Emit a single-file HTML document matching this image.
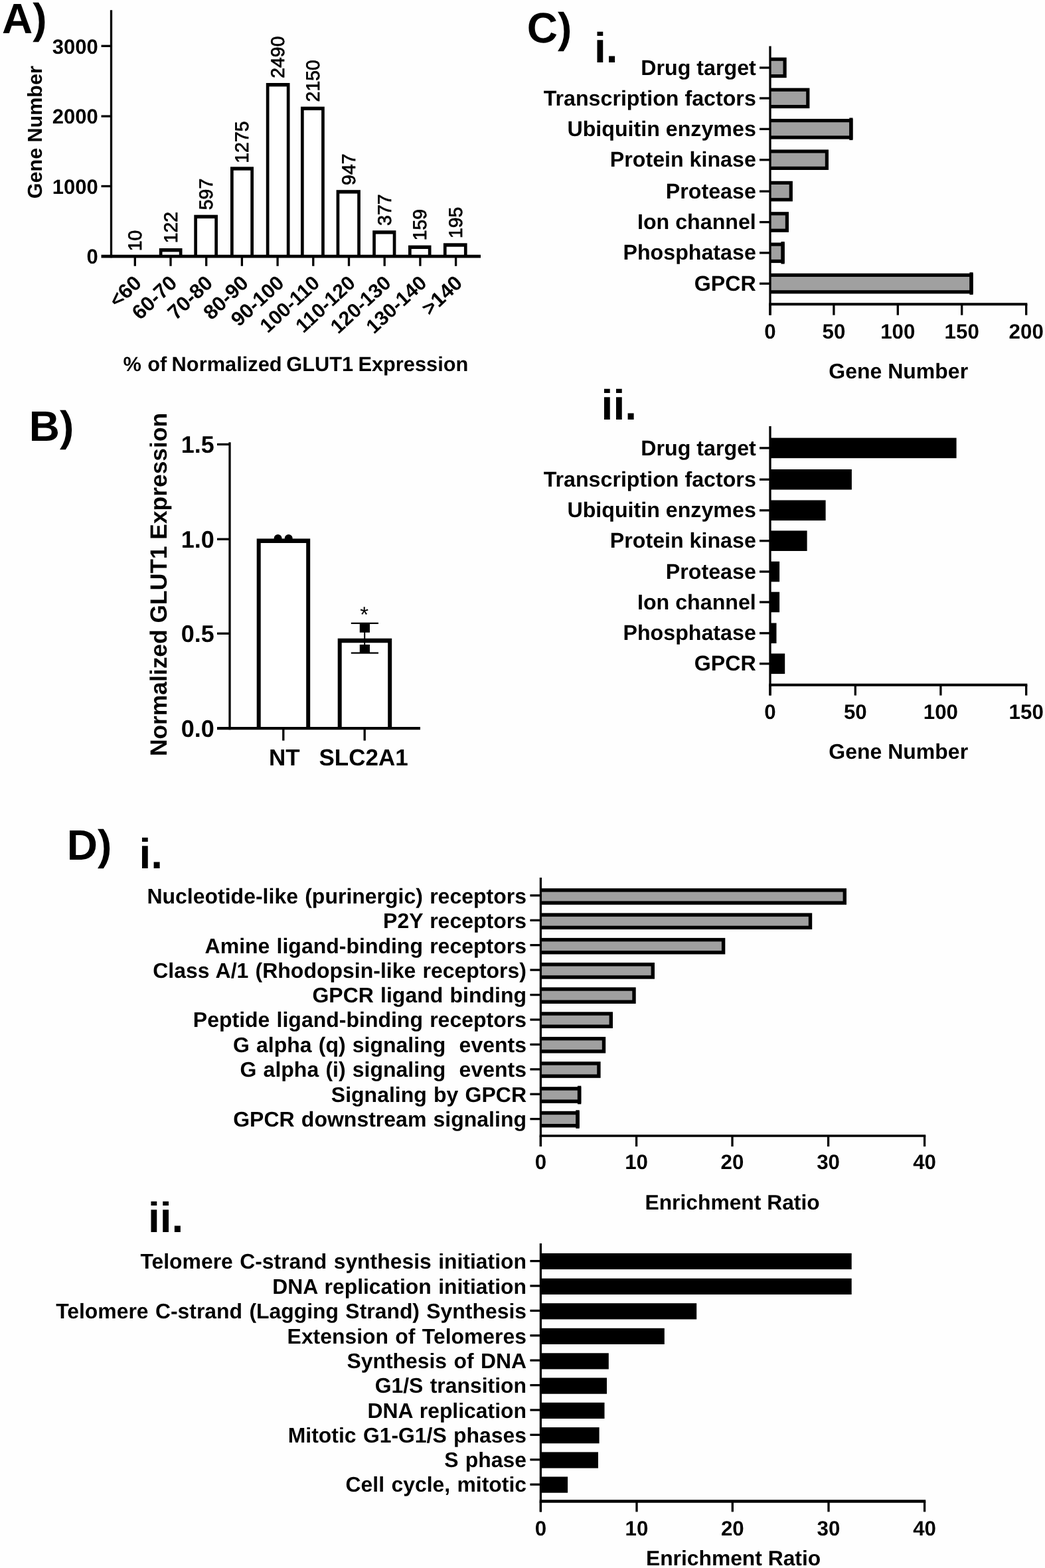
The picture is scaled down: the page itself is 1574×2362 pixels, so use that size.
<!DOCTYPE html>
<html lang="en">
<head>
<meta charset="utf-8">
<title>Figure: GLUT1 expression screen</title>
<style>
html,body{margin:0;padding:0;background:#fff;}
body{width:1574px;height:2362px;overflow:hidden;}
svg{display:block;filter:blur(0.45px);}
svg text{font-family:"Liberation Sans",sans-serif;font-weight:bold;fill:#000;white-space:pre;text-rendering:geometricPrecision;}
svg text.r{font-weight:normal;stroke:#000;stroke-width:0.8px;}
</style>
</head>
<body>
<svg width="1574" height="2362" viewBox="0 0 1574 2362">
<rect x="0" y="0" width="1574" height="2362" fill="#fefefe"/>
<g id="panelA">
<text x="3" y="50.3" font-size="64">A)</text>
<text x="212.9" y="378.2" font-size="28.4" class="r" transform="rotate(-90 212.9 378.2)">10</text>
<rect x="239.8" y="374" width="34.7" height="12.2" fill="#000"/>
<rect x="244.5" y="379.4" width="25.3" height="6.8" fill="#fff"/>
<text x="266.7" y="366.2" font-size="28.4" class="r" transform="rotate(-90 266.7 366.2)">122</text>
<rect x="292.3" y="323.7" width="35.7" height="62.5" fill="#000"/>
<rect x="297" y="329.1" width="26.3" height="57.1" fill="#fff"/>
<text x="320.3" y="316.2" font-size="28.4" class="r" transform="rotate(-90 320.3 316.2)">597</text>
<rect x="347" y="251.3" width="35" height="134.9" fill="#000"/>
<rect x="351.7" y="256.7" width="25.6" height="129.5" fill="#fff"/>
<text x="374" y="245.7" font-size="28.4" class="r" transform="rotate(-90 374 245.7)">1275</text>
<rect x="400.8" y="125" width="35.7" height="261.2" fill="#000"/>
<rect x="405.5" y="130.4" width="26.3" height="255.8" fill="#fff"/>
<text x="427.7" y="117.7" font-size="28.4" class="r" transform="rotate(-90 427.7 117.7)">2490</text>
<rect x="453" y="160.7" width="35.8" height="225.5" fill="#000"/>
<rect x="457.7" y="166.1" width="26.4" height="220.1" fill="#fff"/>
<text x="481.4" y="153.4" font-size="28.4" class="r" transform="rotate(-90 481.4 153.4)">2150</text>
<rect x="506.6" y="286.2" width="36.3" height="100" fill="#000"/>
<rect x="511.3" y="291.6" width="26.9" height="94.6" fill="#fff"/>
<text x="535.1" y="278.9" font-size="28.4" class="r" transform="rotate(-90 535.1 278.9)">947</text>
<rect x="561.2" y="347.2" width="35.2" height="39" fill="#000"/>
<rect x="565.9" y="352.6" width="25.8" height="33.6" fill="#fff"/>
<text x="588.8" y="339.9" font-size="28.4" class="r" transform="rotate(-90 588.8 339.9)">377</text>
<rect x="615" y="369.6" width="34.5" height="16.6" fill="#000"/>
<rect x="619.7" y="375" width="25.1" height="11.2" fill="#fff"/>
<text x="642.5" y="362.3" font-size="28.4" class="r" transform="rotate(-90 642.5 362.3)">159</text>
<rect x="667.9" y="366.3" width="35.7" height="19.9" fill="#000"/>
<rect x="672.6" y="371.7" width="26.3" height="14.5" fill="#fff"/>
<text x="696.2" y="359" font-size="28.4" class="r" transform="rotate(-90 696.2 359)">195</text>
<line x1="167.5" y1="15.3" x2="167.5" y2="388.2" stroke="#000" stroke-width="3.3"/>
<line x1="152.5" y1="386.2" x2="724" y2="386.2" stroke="#000" stroke-width="4.8"/>
<line x1="152.5" y1="69.3" x2="167.5" y2="69.3" stroke="#000" stroke-width="3.3"/>
<line x1="152.5" y1="175.1" x2="167.5" y2="175.1" stroke="#000" stroke-width="3.3"/>
<line x1="152.5" y1="280.5" x2="167.5" y2="280.5" stroke="#000" stroke-width="3.3"/>
<text x="147.8" y="80.5" font-size="31" text-anchor="end">3000</text>
<text x="147.8" y="186.3" font-size="31" text-anchor="end">2000</text>
<text x="147.8" y="291.7" font-size="31" text-anchor="end">1000</text>
<text x="147.8" y="397.4" font-size="31" text-anchor="end">0</text>
<line x1="203.3" y1="386.2" x2="203.3" y2="400.8" stroke="#000" stroke-width="3.3"/>
<text x="214.9" y="428.6" font-size="31" text-anchor="end" transform="rotate(-43.5 214.9 428.6)">&lt;60</text>
<line x1="257" y1="386.2" x2="257" y2="400.8" stroke="#000" stroke-width="3.3"/>
<text x="268.6" y="428.6" font-size="31" text-anchor="end" transform="rotate(-43.5 268.6 428.6)">60-70</text>
<line x1="310.7" y1="386.2" x2="310.7" y2="400.8" stroke="#000" stroke-width="3.3"/>
<text x="322.3" y="428.6" font-size="31" text-anchor="end" transform="rotate(-43.5 322.3 428.6)">70-80</text>
<line x1="364.4" y1="386.2" x2="364.4" y2="400.8" stroke="#000" stroke-width="3.3"/>
<text x="376" y="428.6" font-size="31" text-anchor="end" transform="rotate(-43.5 376 428.6)">80-90</text>
<line x1="418.1" y1="386.2" x2="418.1" y2="400.8" stroke="#000" stroke-width="3.3"/>
<text x="429.7" y="428.6" font-size="30.6" text-anchor="end" transform="rotate(-42.8 429.7 428.6)">90-100</text>
<line x1="471.8" y1="386.2" x2="471.8" y2="400.8" stroke="#000" stroke-width="3.3"/>
<text x="483.4" y="428.6" font-size="30.2" text-anchor="end" transform="rotate(-42.8 483.4 428.6)">100-110</text>
<line x1="525.5" y1="386.2" x2="525.5" y2="400.8" stroke="#000" stroke-width="3.3"/>
<text x="537.1" y="428.6" font-size="30.2" text-anchor="end" transform="rotate(-42.8 537.1 428.6)">110-120</text>
<line x1="579.2" y1="386.2" x2="579.2" y2="400.8" stroke="#000" stroke-width="3.3"/>
<text x="590.8" y="428.6" font-size="30.2" text-anchor="end" transform="rotate(-42.8 590.8 428.6)">120-130</text>
<line x1="632.9" y1="386.2" x2="632.9" y2="400.8" stroke="#000" stroke-width="3.3"/>
<text x="644.5" y="428.6" font-size="30.2" text-anchor="end" transform="rotate(-42.8 644.5 428.6)">130-140</text>
<line x1="686.6" y1="386.2" x2="686.6" y2="400.8" stroke="#000" stroke-width="3.3"/>
<text x="698.2" y="428.6" font-size="31" text-anchor="end" transform="rotate(-43.5 698.2 428.6)">&gt;140</text>
<text x="62.8" y="199.2" font-size="30.5" text-anchor="middle" transform="rotate(-90 62.8 199.2)">Gene Number</text>
<text y="559" font-size="30.8"><tspan x="185.6">%</tspan> <tspan x="222.2">of</tspan> <tspan x="258.6">Normalized</tspan> <tspan x="431.2">GLUT1</tspan> <tspan x="539.4">Expression</tspan></text>
</g>
<g id="panelB">
<text x="43.8" y="664.3" font-size="64">B)</text>
<rect x="386.7" y="811.4" width="80.5" height="285.8" fill="#000"/>
<rect x="392.7" y="818" width="68.5" height="279.2" fill="#fff"/>
<rect x="508.7" y="961.7" width="81.5" height="135.5" fill="#000"/>
<rect x="514.7" y="968.3" width="69.5" height="128.9" fill="#fff"/>
<circle cx="418.6" cy="811" r="6" fill="#000"/>
<circle cx="434.7" cy="811" r="6" fill="#000"/>
<line x1="549.2" y1="938.8" x2="549.2" y2="983.7" stroke="#000" stroke-width="2"/>
<line x1="528.8" y1="938.8" x2="570" y2="938.8" stroke="#000" stroke-width="2.2"/>
<line x1="528.8" y1="983.7" x2="570" y2="983.7" stroke="#000" stroke-width="2.2"/>
<rect x="541.8" y="938.8" width="15.2" height="14" fill="#000"/>
<rect x="541.8" y="971" width="15.2" height="12.7" fill="#000"/>
<text x="548.7" y="937.4" font-size="33" text-anchor="middle" style="font-weight:normal;stroke:none">*</text>
<line x1="346" y1="666.3" x2="346" y2="1099.2" stroke="#000" stroke-width="3.3"/>
<line x1="327" y1="1097.2" x2="633" y2="1097.2" stroke="#000" stroke-width="4.3"/>
<line x1="327" y1="669.4" x2="346" y2="669.4" stroke="#000" stroke-width="3.3"/>
<line x1="327" y1="812.2" x2="346" y2="812.2" stroke="#000" stroke-width="3.3"/>
<line x1="327" y1="954.3" x2="346" y2="954.3" stroke="#000" stroke-width="3.3"/>
<text x="322.8" y="682" font-size="36" text-anchor="end">1.5</text>
<text x="322.8" y="824.8" font-size="36" text-anchor="end">1.0</text>
<text x="322.8" y="966.9" font-size="36" text-anchor="end">0.5</text>
<text x="322.8" y="1109.8" font-size="36" text-anchor="end">0.0</text>
<line x1="426.8" y1="1097.2" x2="426.8" y2="1115.6" stroke="#000" stroke-width="3.3"/>
<text x="428.4" y="1153.3" font-size="35" text-anchor="middle">NT</text>
<line x1="549.2" y1="1097.2" x2="549.2" y2="1115.6" stroke="#000" stroke-width="3.3"/>
<text x="547.6" y="1153.3" font-size="35" text-anchor="middle">SLC2A1</text>
<text x="250.8" y="880.5" font-size="35.4" text-anchor="middle" transform="rotate(-90 250.8 880.5)">Normalized GLUT1 Expression</text>
</g>
<text x="793.7" y="63.8" font-size="64">C)</text>
<text x="895" y="93.9" font-size="64">i.</text>
<g id="panelCi">
<rect x="1160" y="86.6" width="24.7" height="30.6" fill="#000"/>
<rect x="1160" y="91.8" width="19.5" height="20.2" fill="#a0a0a0"/>
<line x1="1144" y1="102" x2="1160" y2="102" stroke="#000" stroke-width="3.3"/>
<text x="1138.8" y="112.5" font-size="32.2" text-anchor="end">Drug target</text>
<rect x="1160" y="132.6" width="59.4" height="30.6" fill="#000"/>
<rect x="1160" y="137.8" width="54.2" height="20.2" fill="#a0a0a0"/>
<line x1="1144" y1="148" x2="1160" y2="148" stroke="#000" stroke-width="3.3"/>
<text x="1138.8" y="158.5" font-size="32.2" text-anchor="end">Transcription factors</text>
<rect x="1160" y="179" width="124.5" height="30.6" fill="#000"/>
<rect x="1160" y="184.2" width="119.3" height="20.2" fill="#a0a0a0"/>
<rect x="1279.3" y="177.5" width="5.2" height="33.6" fill="#000"/>
<line x1="1144" y1="194.4" x2="1160" y2="194.4" stroke="#000" stroke-width="3.3"/>
<text x="1138.8" y="204.9" font-size="32.2" text-anchor="end">Ubiquitin enzymes</text>
<rect x="1160" y="225.4" width="88" height="30.6" fill="#000"/>
<rect x="1160" y="230.6" width="82.8" height="20.2" fill="#a0a0a0"/>
<line x1="1144" y1="240.8" x2="1160" y2="240.8" stroke="#000" stroke-width="3.3"/>
<text x="1138.8" y="251.3" font-size="32.2" text-anchor="end">Protein kinase</text>
<rect x="1160" y="272.8" width="33.9" height="30.6" fill="#000"/>
<rect x="1160" y="278" width="28.7" height="20.2" fill="#a0a0a0"/>
<line x1="1144" y1="288.2" x2="1160" y2="288.2" stroke="#000" stroke-width="3.3"/>
<text x="1138.8" y="298.7" font-size="32.2" text-anchor="end">Protease</text>
<rect x="1160" y="319.2" width="28" height="30.6" fill="#000"/>
<rect x="1160" y="324.4" width="22.8" height="20.2" fill="#a0a0a0"/>
<line x1="1144" y1="334.6" x2="1160" y2="334.6" stroke="#000" stroke-width="3.3"/>
<text x="1138.8" y="345.1" font-size="32.2" text-anchor="end">Ion channel</text>
<rect x="1160" y="365.5" width="21.7" height="30.6" fill="#000"/>
<rect x="1160" y="370.7" width="16.5" height="20.2" fill="#a0a0a0"/>
<rect x="1176.5" y="364" width="5.2" height="33.6" fill="#000"/>
<line x1="1144" y1="380.9" x2="1160" y2="380.9" stroke="#000" stroke-width="3.3"/>
<text x="1138.8" y="391.4" font-size="32.2" text-anchor="end">Phosphatase</text>
<rect x="1160" y="411.8" width="305.6" height="30.6" fill="#000"/>
<rect x="1160" y="417" width="300.4" height="20.2" fill="#a0a0a0"/>
<rect x="1460.4" y="410.3" width="5.2" height="33.6" fill="#000"/>
<line x1="1144" y1="427.2" x2="1160" y2="427.2" stroke="#000" stroke-width="3.3"/>
<text x="1138.8" y="437.7" font-size="32.2" text-anchor="end">GPCR</text>
<line x1="1160" y1="69.4" x2="1160" y2="474.7" stroke="#000" stroke-width="3.3"/>
<line x1="1158.35" y1="458.2" x2="1547.35" y2="458.2" stroke="#000" stroke-width="3.9"/>
<line x1="1160" y1="458.2" x2="1160" y2="474.7" stroke="#000" stroke-width="3.3"/>
<text x="1160" y="509.8" font-size="31.3" text-anchor="middle">0</text>
<line x1="1255.9" y1="458.2" x2="1255.9" y2="474.7" stroke="#000" stroke-width="3.3"/>
<text x="1255.9" y="509.8" font-size="31.3" text-anchor="middle">50</text>
<line x1="1352.3" y1="458.2" x2="1352.3" y2="474.7" stroke="#000" stroke-width="3.3"/>
<text x="1352.3" y="509.8" font-size="31.3" text-anchor="middle">100</text>
<line x1="1448.7" y1="458.2" x2="1448.7" y2="474.7" stroke="#000" stroke-width="3.3"/>
<text x="1448.7" y="509.8" font-size="31.3" text-anchor="middle">150</text>
<line x1="1545.7" y1="458.2" x2="1545.7" y2="474.7" stroke="#000" stroke-width="3.3"/>
<text x="1545.7" y="509.8" font-size="31.3" text-anchor="middle">200</text>
<text x="1353.2" y="569.8" font-size="32" text-anchor="middle">Gene Number</text>
</g>
<text x="905.6" y="631.8" font-size="64">ii.</text>
<g id="panelCii">
<rect x="1160" y="659.6" width="280.6" height="30.6" fill="#000"/>
<line x1="1144" y1="674.9" x2="1160" y2="674.9" stroke="#000" stroke-width="3.3"/>
<text x="1138.8" y="685.5" font-size="32.2" text-anchor="end">Drug target</text>
<rect x="1160" y="707" width="122.9" height="30.6" fill="#000"/>
<line x1="1144" y1="722.3" x2="1160" y2="722.3" stroke="#000" stroke-width="3.3"/>
<text x="1138.8" y="732.9" font-size="32.2" text-anchor="end">Transcription factors</text>
<rect x="1160" y="753.5" width="83.6" height="30.6" fill="#000"/>
<line x1="1144" y1="768.8" x2="1160" y2="768.8" stroke="#000" stroke-width="3.3"/>
<text x="1138.8" y="779.4" font-size="32.2" text-anchor="end">Ubiquitin enzymes</text>
<rect x="1160" y="799.4" width="55.6" height="30.6" fill="#000"/>
<line x1="1144" y1="814.7" x2="1160" y2="814.7" stroke="#000" stroke-width="3.3"/>
<text x="1138.8" y="825.3" font-size="32.2" text-anchor="end">Protein kinase</text>
<rect x="1160" y="845.8" width="14.1" height="30.6" fill="#000"/>
<line x1="1144" y1="861.1" x2="1160" y2="861.1" stroke="#000" stroke-width="3.3"/>
<text x="1138.8" y="871.7" font-size="32.2" text-anchor="end">Protease</text>
<rect x="1160" y="891.7" width="14.1" height="30.6" fill="#000"/>
<line x1="1144" y1="907" x2="1160" y2="907" stroke="#000" stroke-width="3.3"/>
<text x="1138.8" y="917.6" font-size="32.2" text-anchor="end">Ion channel</text>
<rect x="1160" y="938.5" width="9.5" height="30.6" fill="#000"/>
<line x1="1144" y1="953.8" x2="1160" y2="953.8" stroke="#000" stroke-width="3.3"/>
<text x="1138.8" y="964.4" font-size="32.2" text-anchor="end">Phosphatase</text>
<rect x="1160" y="984.5" width="22.2" height="30.6" fill="#000"/>
<line x1="1144" y1="999.8" x2="1160" y2="999.8" stroke="#000" stroke-width="3.3"/>
<text x="1138.8" y="1010.4" font-size="32.2" text-anchor="end">GPCR</text>
<line x1="1160" y1="642" x2="1160" y2="1047.6" stroke="#000" stroke-width="3.3"/>
<line x1="1158.35" y1="1031.8" x2="1547.35" y2="1031.8" stroke="#000" stroke-width="3.9"/>
<line x1="1160" y1="1031.8" x2="1160" y2="1047.6" stroke="#000" stroke-width="3.3"/>
<text x="1160" y="1082.9" font-size="31.3" text-anchor="middle">0</text>
<line x1="1288.3" y1="1031.8" x2="1288.3" y2="1047.6" stroke="#000" stroke-width="3.3"/>
<text x="1288.3" y="1082.9" font-size="31.3" text-anchor="middle">50</text>
<line x1="1416.9" y1="1031.8" x2="1416.9" y2="1047.6" stroke="#000" stroke-width="3.3"/>
<text x="1416.9" y="1082.9" font-size="31.3" text-anchor="middle">100</text>
<line x1="1545.7" y1="1031.8" x2="1545.7" y2="1047.6" stroke="#000" stroke-width="3.3"/>
<text x="1545.7" y="1082.9" font-size="31.3" text-anchor="middle">150</text>
<text x="1353.2" y="1143" font-size="32" text-anchor="middle">Gene Number</text>
</g>
<text x="100.8" y="1295.3" font-size="64">D)</text>
<text x="209.4" y="1308" font-size="64">i.</text>
<g id="panelDi">
<rect x="814.4" y="1338.2" width="460.6" height="24.6" fill="#000"/>
<rect x="814.4" y="1343.6" width="455.2" height="13.8" fill="#a0a0a0"/>
<line x1="798.4" y1="1348.9" x2="814.4" y2="1348.9" stroke="#000" stroke-width="3.3"/>
<text x="793" y="1361.1" font-size="32" text-anchor="end" word-spacing="1.3">Nucleotide-like (purinergic) receptors</text>
<rect x="814.4" y="1375.4" width="408.8" height="24.6" fill="#000"/>
<rect x="814.4" y="1380.8" width="403.4" height="13.8" fill="#a0a0a0"/>
<line x1="798.4" y1="1386.3" x2="814.4" y2="1386.3" stroke="#000" stroke-width="3.3"/>
<text x="793" y="1398.3" font-size="32" text-anchor="end" word-spacing="1.3">P2Y receptors</text>
<rect x="814.4" y="1412.9" width="277.9" height="24.6" fill="#000"/>
<rect x="814.4" y="1418.3" width="272.5" height="13.8" fill="#a0a0a0"/>
<line x1="798.4" y1="1423.7" x2="814.4" y2="1423.7" stroke="#000" stroke-width="3.3"/>
<text x="793" y="1435.8" font-size="32" text-anchor="end" word-spacing="1.3">Amine ligand-binding receptors</text>
<rect x="814.4" y="1450.1" width="171.6" height="24.6" fill="#000"/>
<rect x="814.4" y="1455.5" width="166.2" height="13.8" fill="#a0a0a0"/>
<line x1="798.4" y1="1461.1" x2="814.4" y2="1461.1" stroke="#000" stroke-width="3.3"/>
<text x="793" y="1473" font-size="32" text-anchor="end" word-spacing="1.3">Class A/1 (Rhodopsin-like receptors)</text>
<rect x="814.4" y="1487.3" width="143.3" height="24.6" fill="#000"/>
<rect x="814.4" y="1492.7" width="137.9" height="13.8" fill="#a0a0a0"/>
<line x1="798.4" y1="1498.6" x2="814.4" y2="1498.6" stroke="#000" stroke-width="3.3"/>
<text x="793" y="1510.2" font-size="32" text-anchor="end" word-spacing="1.3">GPCR ligand binding</text>
<rect x="814.4" y="1524.3" width="108.6" height="24.6" fill="#000"/>
<rect x="814.4" y="1529.7" width="103.2" height="13.8" fill="#a0a0a0"/>
<line x1="798.4" y1="1536" x2="814.4" y2="1536" stroke="#000" stroke-width="3.3"/>
<text x="793" y="1547.2" font-size="32" text-anchor="end" word-spacing="1.3">Peptide ligand-binding receptors</text>
<rect x="814.4" y="1561.9" width="97.8" height="24.6" fill="#000"/>
<rect x="814.4" y="1567.3" width="92.4" height="13.8" fill="#a0a0a0"/>
<line x1="798.4" y1="1573.4" x2="814.4" y2="1573.4" stroke="#000" stroke-width="3.3"/>
<text x="793" y="1584.8" font-size="32" text-anchor="end" word-spacing="1.3">G alpha (q) signaling  events</text>
<rect x="814.4" y="1599.2" width="90.2" height="24.6" fill="#000"/>
<rect x="814.4" y="1604.6" width="84.8" height="13.8" fill="#a0a0a0"/>
<line x1="798.4" y1="1610.8" x2="814.4" y2="1610.8" stroke="#000" stroke-width="3.3"/>
<text x="793" y="1622.1" font-size="32" text-anchor="end" word-spacing="1.3">G alpha (i) signaling  events</text>
<rect x="814.4" y="1637.2" width="60.9" height="24.6" fill="#000"/>
<rect x="814.4" y="1642.6" width="55.5" height="13.8" fill="#a0a0a0"/>
<rect x="869.9" y="1635.7" width="5.4" height="27.6" fill="#000"/>
<line x1="798.4" y1="1648.2" x2="814.4" y2="1648.2" stroke="#000" stroke-width="3.3"/>
<text x="793" y="1660.1" font-size="32" text-anchor="end" word-spacing="1.3">Signaling by GPCR</text>
<rect x="814.4" y="1673.8" width="58.3" height="24.6" fill="#000"/>
<rect x="814.4" y="1679.2" width="52.9" height="13.8" fill="#a0a0a0"/>
<rect x="867.3" y="1672.3" width="5.4" height="27.6" fill="#000"/>
<line x1="798.4" y1="1685.6" x2="814.4" y2="1685.6" stroke="#000" stroke-width="3.3"/>
<text x="793" y="1696.7" font-size="32" text-anchor="end" word-spacing="1.3">GPCR downstream signaling</text>
<line x1="814.4" y1="1322" x2="814.4" y2="1727.1" stroke="#000" stroke-width="3.3"/>
<line x1="812.75" y1="1711" x2="1394.25" y2="1711" stroke="#000" stroke-width="3.5"/>
<line x1="814.4" y1="1711" x2="814.4" y2="1727.1" stroke="#000" stroke-width="3.3"/>
<text x="814.4" y="1761" font-size="31.3" text-anchor="middle">0</text>
<line x1="958.6" y1="1711" x2="958.6" y2="1727.1" stroke="#000" stroke-width="3.3"/>
<text x="958.6" y="1761" font-size="31.3" text-anchor="middle">10</text>
<line x1="1103" y1="1711" x2="1103" y2="1727.1" stroke="#000" stroke-width="3.3"/>
<text x="1103" y="1761" font-size="31.3" text-anchor="middle">20</text>
<line x1="1247.6" y1="1711" x2="1247.6" y2="1727.1" stroke="#000" stroke-width="3.3"/>
<text x="1247.6" y="1761" font-size="31.3" text-anchor="middle">30</text>
<line x1="1392.6" y1="1711" x2="1392.6" y2="1727.1" stroke="#000" stroke-width="3.3"/>
<text x="1392.6" y="1761" font-size="31.3" text-anchor="middle">40</text>
<text x="1103.1" y="1822.2" font-size="31.8" text-anchor="middle">Enrichment Ratio</text>
</g>
<text x="222.9" y="1855.8" font-size="64">ii.</text>
<g id="panelDii">
<rect x="814.4" y="1887.9" width="468.3" height="24.2" fill="#000"/>
<line x1="798.4" y1="1899.6" x2="814.4" y2="1899.6" stroke="#000" stroke-width="3.3"/>
<text x="793" y="1910.6" font-size="31.9" text-anchor="end" word-spacing="1.5">Telomere C-strand synthesis initiation</text>
<rect x="814.4" y="1925.8" width="468.3" height="24.2" fill="#000"/>
<line x1="798.4" y1="1937" x2="814.4" y2="1937" stroke="#000" stroke-width="3.3"/>
<text x="793" y="1948.5" font-size="31.9" text-anchor="end" word-spacing="1.5">DNA replication initiation</text>
<rect x="814.4" y="1963.2" width="234.8" height="24.2" fill="#000"/>
<line x1="798.4" y1="1974.4" x2="814.4" y2="1974.4" stroke="#000" stroke-width="3.3"/>
<text x="793" y="1985.9" font-size="31.9" text-anchor="end" word-spacing="1.5">Telomere C-strand (Lagging Strand) Synthesis</text>
<rect x="814.4" y="2000.8" width="186.4" height="24.2" fill="#000"/>
<line x1="798.4" y1="2011.8" x2="814.4" y2="2011.8" stroke="#000" stroke-width="3.3"/>
<text x="793" y="2023.5" font-size="31.9" text-anchor="end" word-spacing="1.5">Extension of Telomeres</text>
<rect x="814.4" y="2038.3" width="102.4" height="24.2" fill="#000"/>
<line x1="798.4" y1="2049.2" x2="814.4" y2="2049.2" stroke="#000" stroke-width="3.3"/>
<text x="793" y="2061" font-size="31.9" text-anchor="end" word-spacing="1.5">Synthesis of DNA</text>
<rect x="814.4" y="2075.5" width="99.6" height="24.2" fill="#000"/>
<line x1="798.4" y1="2086.6" x2="814.4" y2="2086.6" stroke="#000" stroke-width="3.3"/>
<text x="793" y="2098.2" font-size="31.9" text-anchor="end" word-spacing="1.5">G1/S transition</text>
<rect x="814.4" y="2112.8" width="96.1" height="24.2" fill="#000"/>
<line x1="798.4" y1="2124" x2="814.4" y2="2124" stroke="#000" stroke-width="3.3"/>
<text x="793" y="2135.5" font-size="31.9" text-anchor="end" word-spacing="1.5">DNA replication</text>
<rect x="814.4" y="2150.1" width="88.2" height="24.2" fill="#000"/>
<line x1="798.4" y1="2161.4" x2="814.4" y2="2161.4" stroke="#000" stroke-width="3.3"/>
<text x="793" y="2172.8" font-size="31.9" text-anchor="end" word-spacing="1.5">Mitotic G1-G1/S phases</text>
<rect x="814.4" y="2187.4" width="86.6" height="24.2" fill="#000"/>
<line x1="798.4" y1="2198.8" x2="814.4" y2="2198.8" stroke="#000" stroke-width="3.3"/>
<text x="793" y="2210.1" font-size="31.9" text-anchor="end" word-spacing="1.5">S phase</text>
<rect x="814.4" y="2224.5" width="40.7" height="24.2" fill="#000"/>
<line x1="798.4" y1="2236.2" x2="814.4" y2="2236.2" stroke="#000" stroke-width="3.3"/>
<text x="793" y="2247.2" font-size="31.9" text-anchor="end" word-spacing="1.5">Cell cycle, mitotic</text>
<line x1="814.4" y1="1873.1" x2="814.4" y2="2277.4" stroke="#000" stroke-width="3.3"/>
<line x1="812.75" y1="2261.5" x2="1394.25" y2="2261.5" stroke="#000" stroke-width="4.4"/>
<line x1="814.4" y1="2261.5" x2="814.4" y2="2277.4" stroke="#000" stroke-width="3.3"/>
<text x="814.4" y="2313.1" font-size="31.3" text-anchor="middle">0</text>
<line x1="959" y1="2261.5" x2="959" y2="2277.4" stroke="#000" stroke-width="3.3"/>
<text x="959" y="2313.1" font-size="31.3" text-anchor="middle">10</text>
<line x1="1103.3" y1="2261.5" x2="1103.3" y2="2277.4" stroke="#000" stroke-width="3.3"/>
<text x="1103.3" y="2313.1" font-size="31.3" text-anchor="middle">20</text>
<line x1="1248" y1="2261.5" x2="1248" y2="2277.4" stroke="#000" stroke-width="3.3"/>
<text x="1248" y="2313.1" font-size="31.3" text-anchor="middle">30</text>
<line x1="1392.6" y1="2261.5" x2="1392.6" y2="2277.4" stroke="#000" stroke-width="3.3"/>
<text x="1392.6" y="2313.1" font-size="31.3" text-anchor="middle">40</text>
<text x="1104.6" y="2358" font-size="31.8" text-anchor="middle">Enrichment Ratio</text>
</g>
</svg>
</body>
</html>
